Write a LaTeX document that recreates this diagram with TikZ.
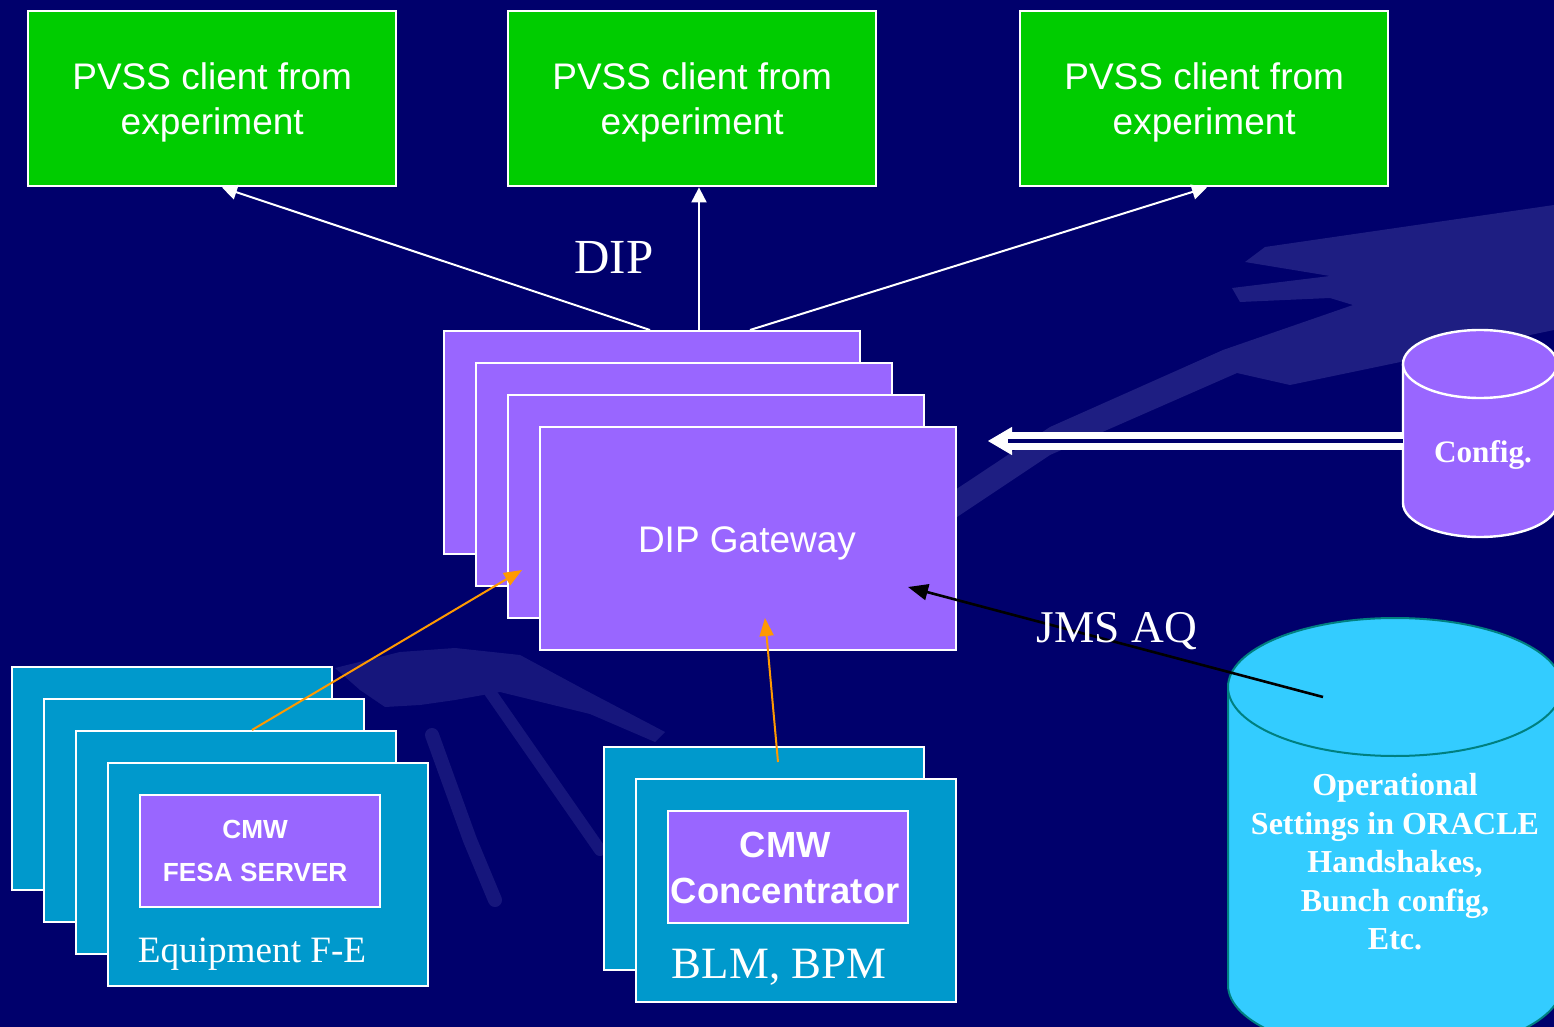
\documentclass[tikz,border=0pt]{standalone}
\usepackage{fontspec}
\setmainfont{Liberation Serif}
\setsansfont{Liberation Sans}
\usetikzlibrary{arrows.meta,calc}
\definecolor{bg}{RGB}{0,0,108}
\definecolor{deco}{RGB}{30,30,130}
\definecolor{decob}{RGB}{22,22,124}
\definecolor{pvgreen}{RGB}{0,204,0}
\definecolor{gwpurple}{RGB}{153,102,255}
\definecolor{eqblue}{RGB}{0,153,204}
\definecolor{orcyan}{RGB}{51,204,255}
\definecolor{orteal}{RGB}{0,128,128}
\definecolor{orarrow}{RGB}{255,153,0}
\newcommand\myfs[2]{\fontsize{#1}{#2}\selectfont}
\tikzset{
  boxbase/.style={draw=white, line width=1.2pt, inner sep=0pt, anchor=north west},
  pvbox/.style={boxbase, fill=pvgreen, minimum width=184pt, minimum height=87.5pt},
  gwbox/.style={boxbase, fill=gwpurple, minimum width=208pt, minimum height=111.5pt},
  eqbox/.style={boxbase, fill=eqblue, minimum width=160pt, minimum height=111.5pt},
  cmwbox/.style={boxbase, fill=gwpurple, minimum width=120pt, minimum height=56pt},
  wline/.style={white, line width=1pt, -{Triangle[length=7.5pt,width=7.5pt]}},
  oline/.style={orarrow, line width=1pt, -{Triangle[length=9pt,width=7pt]}},
  bline/.style={black, line width=1.3pt, -{Triangle[length=10pt,width=8pt]}},
  lbl/.style={text=white, inner sep=0pt, align=center},
  pvtext/.style={lbl, font=\sffamily\myfs{18.5}{22.5}}
}
\begin{document}
\begin{tikzpicture}[x=0.5pt,y=-0.5pt]
\useasboundingbox (0,0) rectangle (1554,1027);
\fill[bg] (0,0) rectangle (1554,1027);
% faint background decoration (stylised hands)
\fill[deco] (1554,205) -- (1265,247) -- (1245,262) -- (1330,276) -- (1232,288) -- (1240,302) -- (1330,298) -- (1353,305) -- (1223,350) -- (1050,427) -- (940,500) -- (945,525) -- (1050,455) -- (1237,373) -- (1290,385) -- (1554,330) -- cycle;
\fill[decob] (335,668) -- (400,652) -- (455,648) -- (520,655) -- (585,690) -- (665,732) -- (655,742) -- (590,714) -- (500,692) -- (455,700) -- (420,705) -- (385,707) -- (360,690) -- cycle;
\draw[decob, line width=7pt, line cap=round] (432,735) -- (470,840) -- (495,900);
\draw[decob, line width=6pt, line cap=round] (490,692) -- (600,850);

\begin{scope}
\clip (0,0) rectangle (1554,1027);
% Config cylinder
\fill[gwpurple] (1403,364) -- (1403,503) arc[start angle=180,end angle=360,x radius=38.5pt,y radius=17pt] -- (1557,364) -- cycle;
\draw[white, line width=1.2pt] (1403,364) -- (1403,503) arc[start angle=180,end angle=360,x radius=38.5pt,y radius=17pt] -- (1557,364);
\filldraw[fill=gwpurple, draw=white, line width=1.2pt] (1480,364) ellipse [x radius=38.5pt, y radius=17pt];
% Oracle cylinder
\fill[orcyan] (1228,687) -- (1228,985) arc[start angle=180,end angle=360,x radius=83.5pt,y radius=34.5pt] -- (1562,687) -- cycle;
\draw[orteal, line width=1pt] (1228,687) -- (1228,985) arc[start angle=180,end angle=360,x radius=83.5pt,y radius=34.5pt] -- (1562,687);
\filldraw[fill=orcyan, draw=orteal, line width=1pt] (1395,687) ellipse [x radius=83.5pt, y radius=34.5pt];
\end{scope}
\coordinate (cfg) at (1403,441);
\coordinate (cfgtip) at (988,441);
\node[lbl, font=\bfseries\myfs{15.6}{18}] (cfgtext) at (1483,455) {Config.};
\node[lbl, font=\bfseries\myfs{16}{19.25}] (oratext) at (1395,862) {Operational\\Settings in ORACLE\\Handshakes,\\Bunch config,\\Etc.};

% PVSS clients
\node[pvbox] (p1) at (27,10) {};
\node[pvbox] (p2) at (507,10) {};
\node[pvbox] (p3) at (1019,10) {};
\node[pvtext] (p1t) at ($(p1.center)+(0,4)$) {PVSS client from\\experiment};
\node[pvtext] (p2t) at ($(p2.center)+(0,4)$) {PVSS client from\\experiment};
\node[pvtext] (p3t) at ($(p3.center)+(0,4)$) {PVSS client from\\experiment};

% DIP gateways
\node[gwbox] (gw1) at (443,330) {};
\node[gwbox] (gw2) at (475,362) {};
\node[gwbox] (gw3) at (507,394) {};
\node[gwbox] (gw4) at (539,426) {};
\node[lbl, font=\sffamily\myfs{18.5}{22.5}] (gwtext) at (747,543) {DIP Gateway};

% Equipment front-ends
\node[eqbox] (eq1) at (11,666) {};
\node[eqbox] (eq2) at (43,698) {};
\node[eqbox] (eq3) at (75,730) {};
\node[eqbox] (eq4) at (107,762) {};
\node[cmwbox] (fesa) at (139,794) {};
\node[lbl, font=\sffamily\bfseries\myfs{13.1}{21.5}] (fesat) at ($(fesa.center)+(-5,0)$) {CMW\\FESA SERVER};
\node[lbl, font=\myfs{18.6}{22}] (eqtext) at (252,954) {Equipment F-E};

% BLM/BPM
\node[eqbox] (blm1) at (603,746) {};
\node[eqbox] (blm2) at (635,778) {};
\node[cmwbox] (conc) at (667,810) {};
\node[lbl, font=\sffamily\bfseries\myfs{18.2}{23}] (conct) at ($(conc.center)+(-3,1)$) {CMW\\Concentrator};
\node[lbl, font=\myfs{22.4}{26}] (blmtext) at (779,967) {BLM, BPM};

% DIP arrows
\draw[wline] ($(gw1.north west)+(207,0)$) -- ($(p1.south west)+(195,0)$);
\draw[wline] ($(gw1.north west)+(256,0)$) -- ($(p2.south west)+(192,0)$);
\draw[wline] ($(gw1.north west)+(307,0)$) -- ($(p3.south west)+(188,0)$);
\node[lbl, font=\myfs{24.5}{28}] (dip) at (614,258) {DIP};

% Config double arrow
\draw[white, line width=0.5pt, -{Triangle[length=12pt,width=14pt]}] (cfg) -- (cfgtip);
\draw[white, line width=3.5pt, double=bg, double distance=1.6pt] (cfg) -- ($(cfgtip)+(20,0)$);

% orange arrows
\draw[oline] ($(eq3.north west)+(177,0)$) -- ($(gw3.north west)+(15,176)$);
\draw[oline] ($(blm1.north west)+(175,16)$) -- ($(gw4.north west)+(226,192)$);

% JMS AQ
\coordinate (jms) at (1323,697);
\draw[bline] (jms) -- ($(gw4.north west)+(369,161)$);
\node[lbl, font=\myfs{22.7}{26}] (jmstext) at (1117,631) {JMS AQ};
\end{tikzpicture}
\end{document}
